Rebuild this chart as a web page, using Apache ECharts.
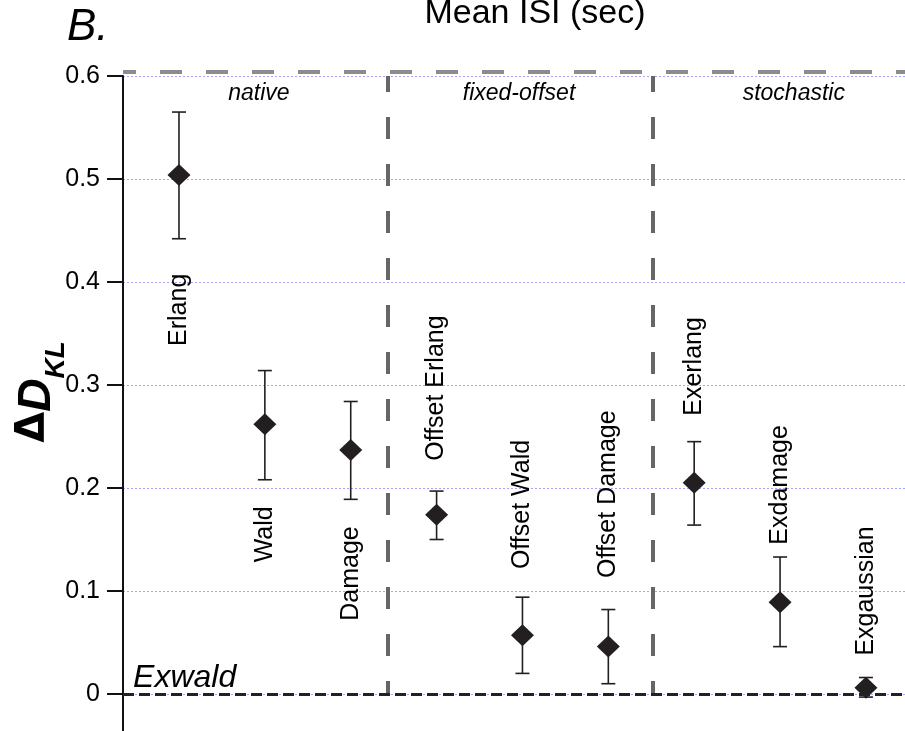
<!DOCTYPE html>
<html>
<head>
<meta charset="utf-8">
<script src="https://cdn.jsdelivr.net/npm/echarts@6/dist/echarts.min.js"></script>
<style>
  html, body { margin: 0; padding: 0; background: #fff; }
  #chart { width: 905px; height: 731px; }
</style>
</head>
<body>
<div id="chart"></div>
<script>
  // model names, one per position along the hidden x axis
  const names = ['Erlang', 'Wald', 'Damage', 'Offset Erlang', 'Offset Wald', 'Offset Damage', 'Exerlang', 'Exdamage', 'Exgaussian'];
  const xPos = [1, 2, 3, 4, 5, 6, 7, 8, 9];
  const means = [0.504, 0.262, 0.237, 0.174, 0.057, 0.046, 0.205, 0.089, 0.006];
  const lows = [0.442, 0.208, 0.189, 0.150, 0.020, 0.010, 0.164, 0.046, -0.003];
  const highs = [0.565, 0.314, 0.284, 0.197, 0.094, 0.082, 0.245, 0.133, 0.016];
  // where the rotated model names sit (y value of the text centre)
  const labelY = [0.373, 0.155, 0.117, 0.297, 0.184, 0.194, 0.318, 0.203, 0.100];

  const groups = ['native', 'fixed-offset', 'stochastic'];
  const groupX = [1.93, 4.96, 8.16];
  const groupY = 0.583;
  const dividers = [3.43, 6.52];

  const yTicks = { min: 0, max: 0.6, interval: 0.1 };
  const xRange = { min: 0.348, max: 9.455 };
  const topLineY = 0.604;
  const axisBottomY = -0.04;

  const FONT = '"Liberation Sans", Arial, sans-serif';
  const INK = '#231f20';
  const TEXT = '#000';

  const chart = echarts.init(document.getElementById('chart'));

  // invisible anchor points that only carry a text label
  function textSeries(data, label) {
    return {
      type: 'scatter',
      silent: true,
      symbolSize: 2,
      itemStyle: { color: 'rgba(0,0,0,0)', opacity: 1 },
      data: data,
      label: Object.assign({ show: true, position: 'inside', formatter: '{b}', color: TEXT, fontFamily: FONT }, label)
    };
  }

  chart.setOption({
    animation: false,
    backgroundColor: '#fff',
    grid: { left: 123, right: 0, top: 76, bottom: 37 },
    xAxis: {
      type: 'value',
      min: xRange.min,
      max: xRange.max,
      show: false
    },
    yAxis: {
      type: 'value',
      min: yTicks.min,
      max: yTicks.max,
      interval: yTicks.interval,
      axisLine: { show: true, onZero: false, lineStyle: { color: '#111', width: 2 } },
      axisTick: { show: true, length: 16, lineStyle: { color: '#111', width: 2 } },
      axisLabel: {
        margin: 23,
        fontSize: 25,
        color: TEXT,
        fontFamily: FONT,
        formatter: v => (v === 0 ? '0' : v.toFixed(1))
      },
      splitLine: { show: true, lineStyle: { color: '#a4a4fa', type: [2, 2], width: 1 } }
    },
    graphic: [
      {
        type: 'text', x: 535, y: -3, silent: true,
        style: { text: 'Mean ISI (sec)', fontSize: 34, fontFamily: FONT, fill: TEXT, align: 'center', verticalAlign: 'top' }
      },
      {
        type: 'text', x: 67, y: 6, silent: true,
        style: { text: 'B.', fontSize: 44, fontStyle: 'italic', fontFamily: FONT, fill: TEXT, align: 'left', verticalAlign: 'top' }
      },
      {
        type: 'text', x: 37, y: 392, rotation: Math.PI / 2, silent: true,
        style: {
          text: '{a|Δ}{d|D}{s|KL}',
          align: 'center',
          verticalAlign: 'middle',
          fill: TEXT,
          rich: {
            a: { fontSize: 40, fontWeight: 'bold', fontFamily: '"DejaVu Sans", sans-serif', lineHeight: 46, verticalAlign: 'top' },
            d: { fontSize: 46, fontWeight: 'bold', fontStyle: 'italic', fontFamily: FONT, lineHeight: 46, verticalAlign: 'top' },
            s: { fontSize: 28, fontWeight: 'bold', fontStyle: 'italic', fontFamily: FONT, lineHeight: 30, padding: [28, 0, 0, 0], verticalAlign: 'top' }
          }
        }
      }
    ],
    series: [
      {
        // axis line carried on below zero
        type: 'line',
        data: [[xRange.min, 0], [xRange.min, axisBottomY]],
        symbol: 'none',
        clip: false,
        silent: true,
        lineStyle: { color: '#111', width: 2 }
      },
      {
        // grey dashed frame just above 0.6
        type: 'line',
        data: [[xRange.min, topLineY], [xRange.max, topLineY]],
        symbol: 'none',
        clip: false,
        silent: true,
        z: 1,
        lineStyle: { color: '#8c8c8c', width: 4, type: [22, 24], dashOffset: 9 }
      },
      {
        type: 'custom',
        clip: false,
        silent: true,
        data: xPos.map((x, i) => [x, lows[i], highs[i]]),
        encode: { x: 0, y: [1, 2] },
        renderItem: (params, api) => {
          const x = api.value(0);
          const lo = api.coord([x, api.value(1)]);
          const hi = api.coord([x, api.value(2)]);
          const w = 7;
          const st = { stroke: INK, lineWidth: 1.6 };
          return {
            type: 'group',
            children: [
              { type: 'line', shape: { x1: lo[0], y1: lo[1], x2: hi[0], y2: hi[1] }, style: st },
              { type: 'line', shape: { x1: hi[0] - w, y1: hi[1], x2: hi[0] + w, y2: hi[1] }, style: st },
              { type: 'line', shape: { x1: lo[0] - w, y1: lo[1], x2: lo[0] + w, y2: lo[1] }, style: st }
            ]
          };
        }
      },
      {
        type: 'scatter',
        clip: false,
        silent: true,
        z: 4,
        symbol: 'diamond',
        symbolSize: [23, 22],
        itemStyle: { color: INK, opacity: 1 },
        data: xPos.map((x, i) => [x, means[i]]),
        markLine: {
          silent: true,
          symbol: ['none', 'none'],
          label: { show: false },
          data: [
            { xAxis: 0.33, lineStyle: { color: '#7a7a7a', width: 4, type: [22, 25], dashOffset: 9 } },
            { xAxis: dividers[0], lineStyle: { color: '#666', width: 4, type: [22, 25], dashOffset: 9 } },
            { xAxis: dividers[1], lineStyle: { color: '#666', width: 4, type: [22, 25], dashOffset: 9 } },
            { yAxis: 0, lineStyle: { color: '#222', width: 3, type: [11, 5] } }
          ]
        }
      },
      textSeries(names.map((n, i) => ({ name: n, value: [xPos[i], labelY[i]] })), { rotate: 90, fontSize: 25 }),
      textSeries(groups.map((g, i) => ({ name: g, value: [groupX[i], groupY] })), { fontSize: 23, fontStyle: 'italic' }),
      textSeries([{ name: 'Exwald', value: [0.465, 0] }], { align: 'left', verticalAlign: 'bottom', fontSize: 32, fontStyle: 'italic' })
    ]
  });
</script>
</body>
</html>
